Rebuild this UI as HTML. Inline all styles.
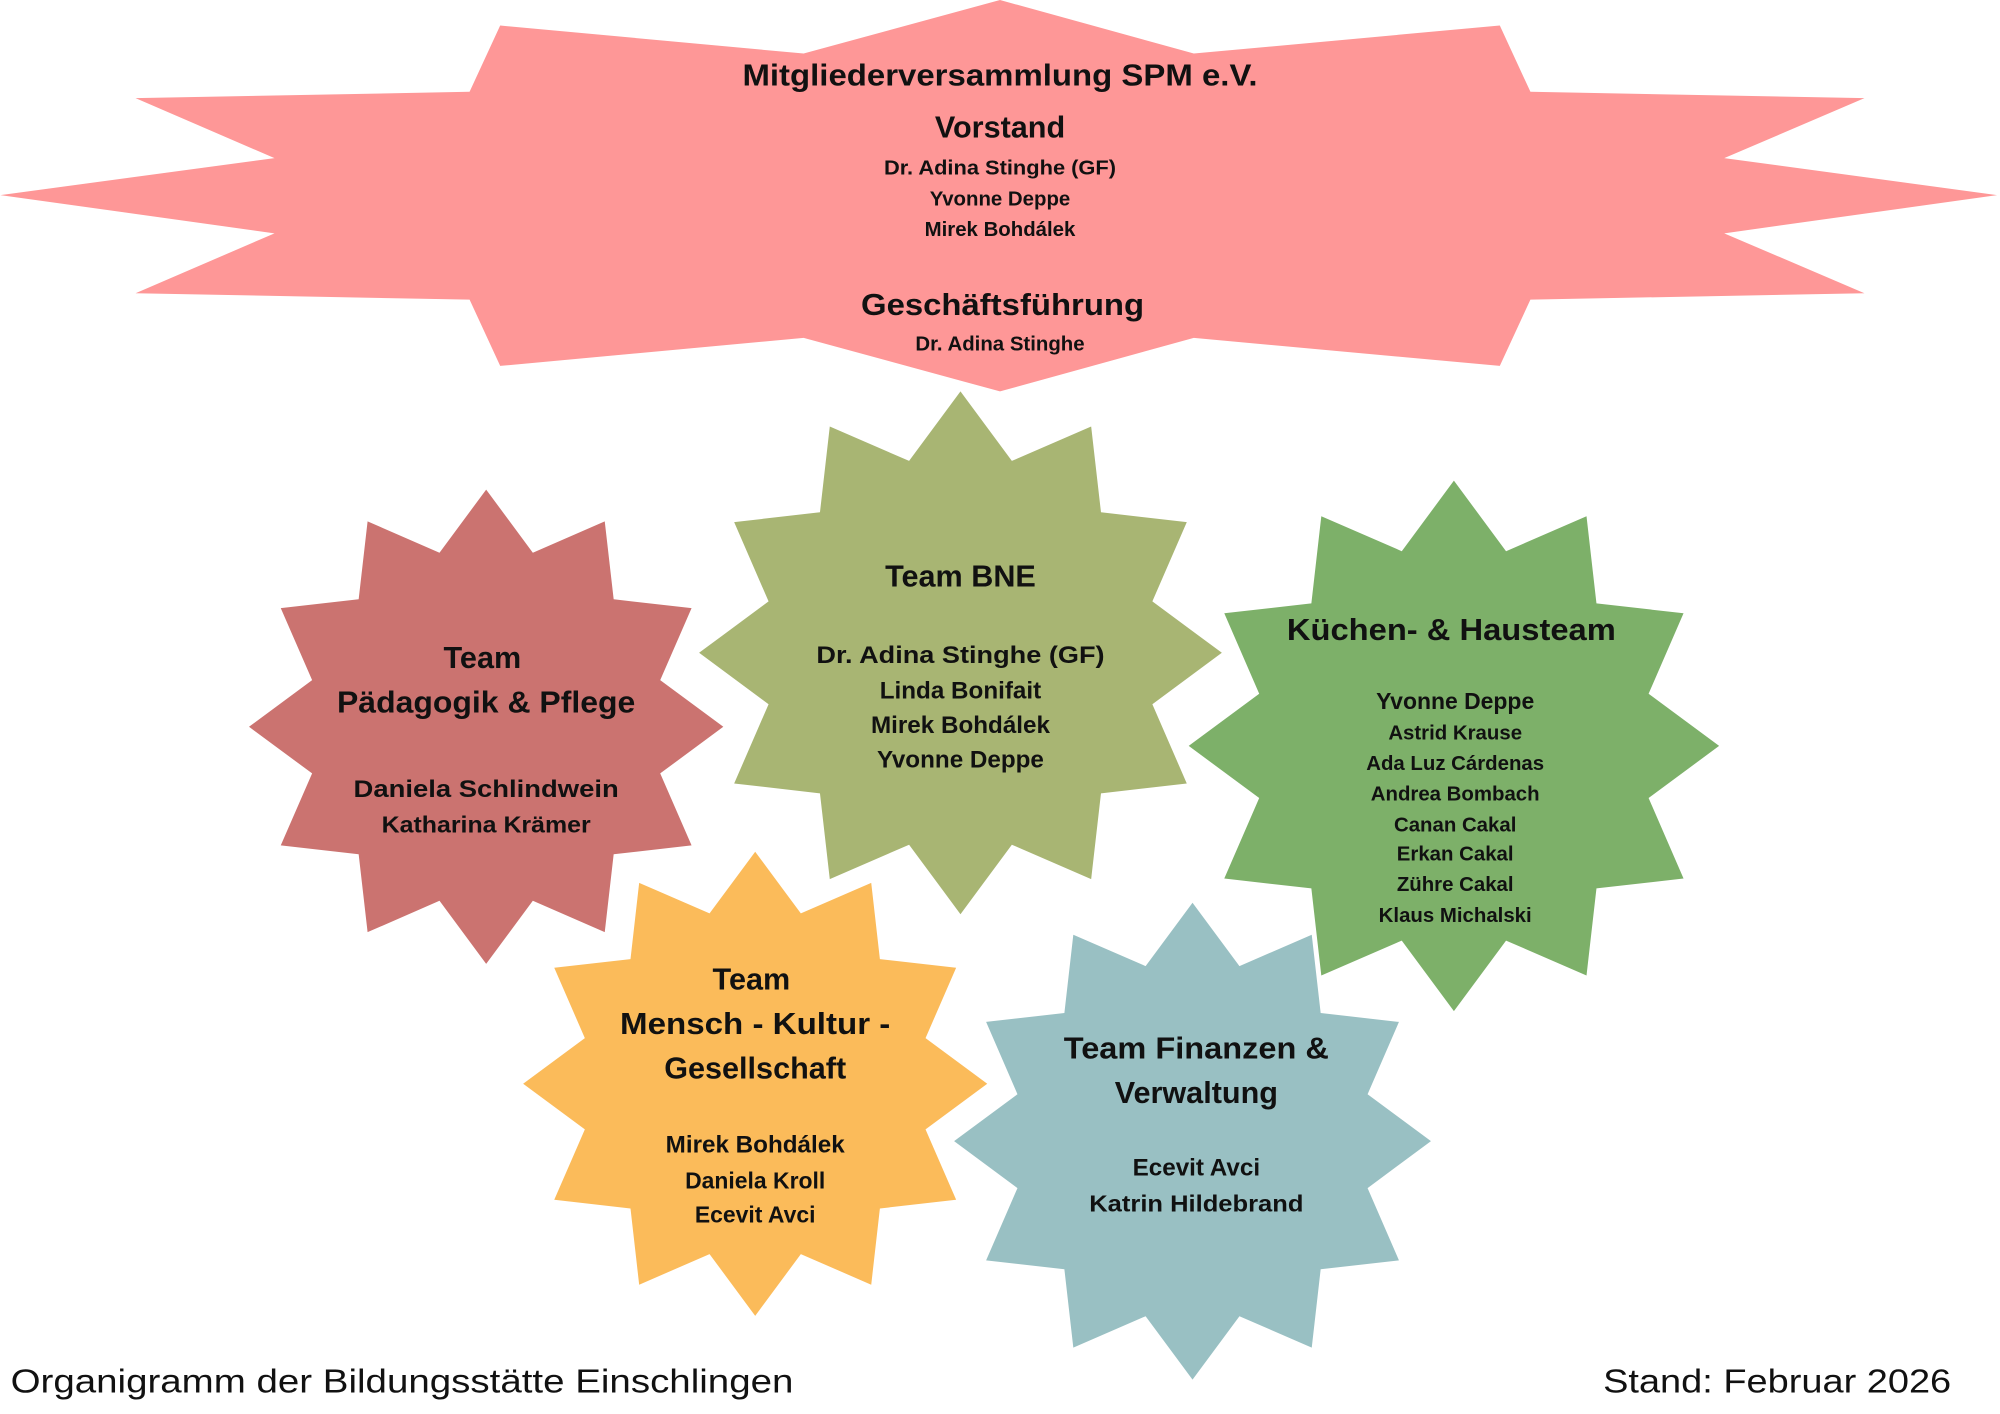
<!DOCTYPE html>
<html><head><meta charset="utf-8"><style>
html,body{margin:0;padding:0;background:#fff}
svg{display:block}
text{font-family:"Liberation Sans",sans-serif;font-weight:bold;fill:#111;text-anchor:middle}
</style></head><body>
<svg id="s" width="2000" height="1414" viewBox="0 0 1568 1109" xmlns="http://www.w3.org/2000/svg">
<polygon fill="#fe9797" points="784,0 936,42 1176,20 1200,72 1462,77 1352,124 1566,153 1352,183 1462,230 1200,235 1176,287 936,265 784,307 630,265 392,287 368,235 106,230 215,183 0,153 215,124 106,77 368,72 392,20 630,42"/>
<g id="stars"></g>
<text x="784" y="67" font-size="24" textLength="404" lengthAdjust="spacingAndGlyphs">Mitgliederversammlung SPM e.V.</text>
<text x="784" y="108" font-size="24">Vorstand</text>
<text x="784" y="137" font-size="16" textLength="182" lengthAdjust="spacingAndGlyphs">Dr. Adina Stinghe (GF)</text>
<text x="784" y="161" font-size="16">Yvonne Deppe</text>
<text x="784" y="185" font-size="16">Mirek Bohdálek</text>
<text x="786" y="247" font-size="24" textLength="222" lengthAdjust="spacingAndGlyphs">Geschäftsführung</text>
<text x="784" y="275" font-size="16">Dr. Adina Stinghe</text>

<text x="378" y="524" font-size="24">Team</text>
<text x="381" y="559" font-size="24" textLength="234" lengthAdjust="spacingAndGlyphs">Pädagogik &amp; Pflege</text>
<text x="381" y="625" font-size="19" textLength="208" lengthAdjust="spacingAndGlyphs">Daniela Schlindwein</text>
<text x="381" y="653" font-size="18" textLength="164" lengthAdjust="spacingAndGlyphs">Katharina Krämer</text>

<text x="753" y="460" font-size="24">Team BNE</text>
<text x="753" y="520" font-size="19" textLength="226" lengthAdjust="spacingAndGlyphs">Dr. Adina Stinghe (GF)</text>
<text x="753" y="548" font-size="19">Linda Bonifait</text>
<text x="753" y="575" font-size="19">Mirek Bohdálek</text>
<text x="753" y="602" font-size="19">Yvonne Deppe</text>

<text x="1138" y="502" font-size="24" textLength="258" lengthAdjust="spacingAndGlyphs">Küchen- &amp; Hausteam</text>
<text x="1141" y="556" font-size="18">Yvonne Deppe</text>
<text x="1141" y="580" font-size="16">Astrid Krause</text>
<text x="1141" y="604" font-size="16">Ada Luz Cárdenas</text>
<text x="1141" y="628" font-size="16">Andrea Bombach</text>
<text x="1141" y="652" font-size="16">Canan Cakal</text>
<text x="1141" y="675" font-size="16">Erkan Cakal</text>
<text x="1141" y="699" font-size="16">Zühre Cakal</text>
<text x="1141" y="723" font-size="16">Klaus Michalski</text>

<text x="589" y="776" font-size="24">Team</text>
<text x="592" y="811" font-size="24" textLength="212" lengthAdjust="spacingAndGlyphs">Mensch - Kultur -</text>
<text x="592" y="846" font-size="24">Gesellschaft</text>
<text x="592" y="904" font-size="19">Mirek Bohdálek</text>
<text x="592" y="932" font-size="18">Daniela Kroll</text>
<text x="592" y="959" font-size="18">Ecevit Avci</text>

<text x="938" y="830" font-size="24" textLength="208" lengthAdjust="spacingAndGlyphs">Team Finanzen &amp;</text>
<text x="938" y="865" font-size="24">Verwaltung</text>
<text x="938" y="922" font-size="19">Ecevit Avci</text>
<text x="938" y="950" font-size="18" textLength="168" lengthAdjust="spacingAndGlyphs">Katrin Hildebrand</text>

<text x="8" y="1092" font-size="26" textLength="614" lengthAdjust="spacingAndGlyphs" style="font-weight:normal;text-anchor:start">Organigramm der Bildungsstätte Einschlingen</text>
<text x="1257" y="1092" font-size="26" textLength="273" lengthAdjust="spacingAndGlyphs" style="font-weight:normal;text-anchor:start">Stand: Februar 2026</text>
</svg>
<script>
var defs=[[381,570,186,"#cb7370"],[753,512,205,"#a8b573"],[1140,585,208,"#7db069"],[592,850,182,"#fbbb5a"],[935,895,187,"#99c0c3"]];
var g=document.getElementById("stars"),ns="http://www.w3.org/2000/svg";
defs.forEach(function(d){var p=[];for(var i=0;i<24;i++){var a=(-90+i*15)*Math.PI/180,r=i%2?d[2]*0.76:d[2];p.push((d[0]+r*Math.cos(a)).toFixed(1)+","+(d[1]+r*Math.sin(a)).toFixed(1));}
var e=document.createElementNS(ns,"polygon");e.setAttribute("points",p.join(" "));e.setAttribute("fill",d[3]);g.appendChild(e);});
</script>
</body></html>
